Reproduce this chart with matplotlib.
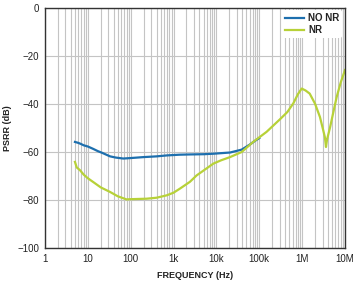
import matplotlib
matplotlib.use("Agg")
import matplotlib.pyplot as plt
from matplotlib.ticker import FixedLocator, NullFormatter, LogLocator

plt.rcParams['font.family'] = ['Liberation Sans', 'DejaVu Sans']

# Data
freq_nonr = [5, 6, 7, 8, 10, 13, 17, 22, 33, 45, 67, 100, 200, 400, 700,
             1400, 2400, 5000, 8500, 20800, 38800, 60000, 80000, 100000]
psrr_nonr = [-55.9, -56.3, -56.8, -57.3, -57.8, -58.7, -59.7, -60.5, -61.9,
             -62.4, -62.8, -62.6, -62.2, -61.9, -61.5, -61.2, -61.1, -61.0,
             -60.8, -60.3, -59.1, -57.0, -55.4, -54.3]

freq_nr = [5, 5.5, 6.6, 8, 10, 13.4, 20, 33, 50, 80, 100, 236, 400, 692,
           1000, 1410, 2400, 3460, 5000, 8500, 13000, 20800, 38800, 72000,
           148000, 303000, 450000, 620000, 800000, 977000, 1200000, 1500000,
           2000000, 2600000, 3100000, 3400000, 3600000, 3800000, 4500000,
           5500000, 6400000, 8000000, 10000000]
psrr_nr = [-64.2, -66.5, -67.7, -69.5, -71.0, -72.6, -74.8, -76.7, -78.5,
           -79.8, -79.7, -79.5, -79.1, -78.1, -77.0, -75.3, -72.5, -69.8,
           -67.8, -64.9, -63.5, -62.2, -60.1, -55.9, -51.7, -46.5, -43.5,
           -39.9, -36.0, -33.7, -34.5, -35.8, -40.0, -45.5, -51.0, -54.0,
           -58.0, -55.0, -49.7, -42.5, -37.2, -31.0, -26.0]

x_ticks = [1, 10, 100, 1e3, 1e4, 1e5, 1e6, 1e7]
x_labels = ['1', '10', '100', '1k', '10k', '100k', '1M', '10M']
y_ticks = [0, -20, -40, -60, -80, -100]
y_labels = ['0', '\u221220', '\u221240', '\u221260', '\u221280', '\u2212100']

fig = plt.figure(figsize=(3.59, 2.83), dpi=100)
ax = fig.add_axes([45/359, 1 - 248/283, 300/359, 240.5/283])

ax.set_xscale('log')
ax.set_xlim(1, 1e7)
ax.set_ylim(-100, 0)

ax.xaxis.set_major_locator(FixedLocator(x_ticks))
ax.xaxis.set_minor_locator(LogLocator(base=10, subs=range(2, 10), numticks=20))
ax.xaxis.set_minor_formatter(NullFormatter())
ax.set_xticklabels(x_labels)
ax.set_yticks(y_ticks)
ax.set_yticklabels(y_labels)

ax.grid(True, which='major', axis='both', color='#c4c4c4', lw=0.8)
ax.grid(True, which='minor', axis='x', color='#c4c4c4', lw=0.8)
ax.tick_params(axis='both', which='both', length=0, labelsize=7, pad=4,
               colors='#222222')

for s in ax.spines.values():
    s.set_color('#333333')
    s.set_linewidth(1.0)

ax.plot(freq_nonr, psrr_nonr, color='#1d6fae', lw=1.6, label='NO NR')
ax.plot(freq_nr, psrr_nr, color='#b7d138', lw=1.6, label='NR')

leg = ax.legend(loc='upper right', frameon=True, fontsize=7, handlelength=2.0,
                handletextpad=0.4, labelspacing=0.2, borderpad=0.3,
                borderaxespad=0.3)
leg.get_frame().set_edgecolor('none')
leg.get_frame().set_facecolor('white')
leg.get_frame().set_alpha(1.0)
for t in leg.get_texts():
    t.set_fontweight('bold')
    t.set_color('#222222')

ax.set_xlabel('FREQUENCY (Hz)', fontsize=6.5, fontweight='bold', color='#222222',
              labelpad=5)
ax.set_ylabel('PSRR (dB)', fontsize=6.5, fontweight='bold', color='#222222',
              labelpad=4)

fig.savefig('out.png', dpi=100)
